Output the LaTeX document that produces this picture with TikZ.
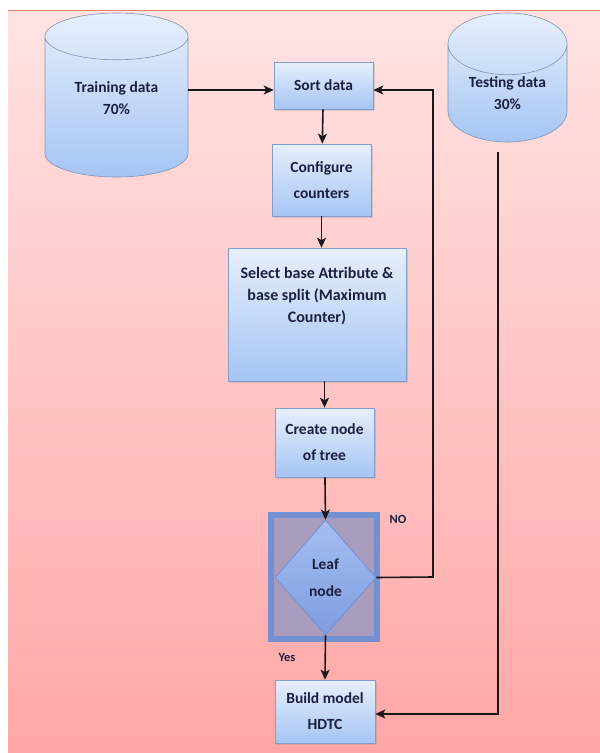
\documentclass[tikz,border=0pt]{standalone}
\usepackage{fontspec}
\setmainfont{Carlito}
\usetikzlibrary{shapes.geometric,arrows.meta,shadows}

\definecolor{boxtop}{HTML}{E6EFFC}
\definecolor{boxbot}{HTML}{A6C5F4}
\definecolor{boxline}{HTML}{809DCC}
\definecolor{bgtop}{HTML}{FFE3E3}
\definecolor{bgbot}{HTML}{FFA7A6}
\definecolor{txt}{HTML}{1B2040}
\definecolor{leafline}{HTML}{7290D2}
\definecolor{leaffill}{HTML}{A99CBE}
\definecolor{diatop}{HTML}{A6BEF1}
\definecolor{diabot}{HTML}{7E9DE0}

\tikzset{
  procbox/.style={rectangle, draw=boxline, line width=0.6pt, top color=boxtop, bottom color=boxbot,
    text=txt, font=\bfseries\fontsize{15.5}{26}\selectfont, align=center, inner sep=2pt,
    drop shadow={opacity=0.25, shadow xshift=1.5pt, shadow yshift=-2pt}},
  datacyl/.style={cylinder, shape border rotate=90, draw=boxline!70!gray, line width=0.6pt,
    top color=boxtop, bottom color=boxbot, text=txt, font=\bfseries\fontsize{15.5}{22}\selectfont,
    align=center, inner sep=0pt, anchor=shape center},
  flow/.style={draw=black!90, line width=1.6pt, -{Stealth[length=10pt,width=9pt,inset=2.5pt]}},
  tag/.style={text=txt, font=\bfseries\fontsize{12.5}{14}\selectfont}
}

\begin{document}
\begin{tikzpicture}[x=1pt, y=-1pt]
\useasboundingbox (0,0) rectangle (600,753);

%draw background
\fill[white] (0,0) rectangle (600,753);
\shade[top color=bgtop, bottom color=bgbot] (8,10) rectangle (600,753);
\draw[red!40!brown!70, line width=0.6pt] (8,10) -- (600,10);

%draw data stores
\node[datacyl, minimum width=143pt, minimum height=164pt, aspect=0.56, text depth=18pt] (train) at (116.5,95) {Training data\\70\%};
\node[datacyl, minimum width=119pt, minimum height=129pt, aspect=0.8] (test) at (507.5,77.5) {Testing data\\30\%};

%draw process boxes
\node[procbox, minimum width=99pt, minimum height=47pt] (sort) at (323.5,85.5) {Sort data};
\node[procbox, minimum width=99pt, minimum height=72pt] (config) at (321.5,180) {Configure\\counters};
\node[procbox, minimum width=178pt, minimum height=133pt, text depth=39pt,
  font=\bfseries\fontsize{16}{22}\selectfont] (select) at (317,314.5) {Select base Attribute \&\\base split (Maximum\\Counter)};
\node[procbox, minimum width=99pt, minimum height=69pt] (create) at (324.5,442.5) {Create node\\of tree};
\node[procbox, minimum width=100pt, minimum height=63pt] (build) at (325,711.5) {Build model\\HDTC};

%draw decision
\node[rectangle, draw=leafline, line width=6pt, fill=leaffill, minimum width=106pt, minimum height=124pt] (leafbox) at (324,577) {};
\node[diamond, draw=leafline, line width=0.8pt, top color=diatop, bottom color=diabot, inner sep=0pt,
  minimum width=101pt, minimum height=115pt, text=txt, align=center,
  font=\bfseries\fontsize{15.5}{27}\selectfont] (leaf) at (325.5,577.5) {Leaf\\node};
\node[tag] (no) at (398,519) {NO};
\node[tag] (yes) at (287,657) {Yes};

%draw connectors
\coordinate (back) at (433,577);
\coordinate (testfoot) at (498,152);
\draw[flow] ([yshift=-4.5pt]sort.west -| train.east) -- ([yshift=-4.5pt]sort.west);
\draw[flow] (sort) -- (config);
\draw[flow] (config.south) -- (config.south |- select.north);
\draw[flow] (select.south -| create.north) -- (create.north);
\draw[flow] (create) -- (leaf.north);
\draw[flow] (leaf.south) -- (build.north);
\draw[flow] (leaf.east) -- (back) |- ([yshift=-4.5pt]sort.east);
\draw[flow] (testfoot) |- ([yshift=-2.5pt]build.east);

\end{tikzpicture}
\end{document}
